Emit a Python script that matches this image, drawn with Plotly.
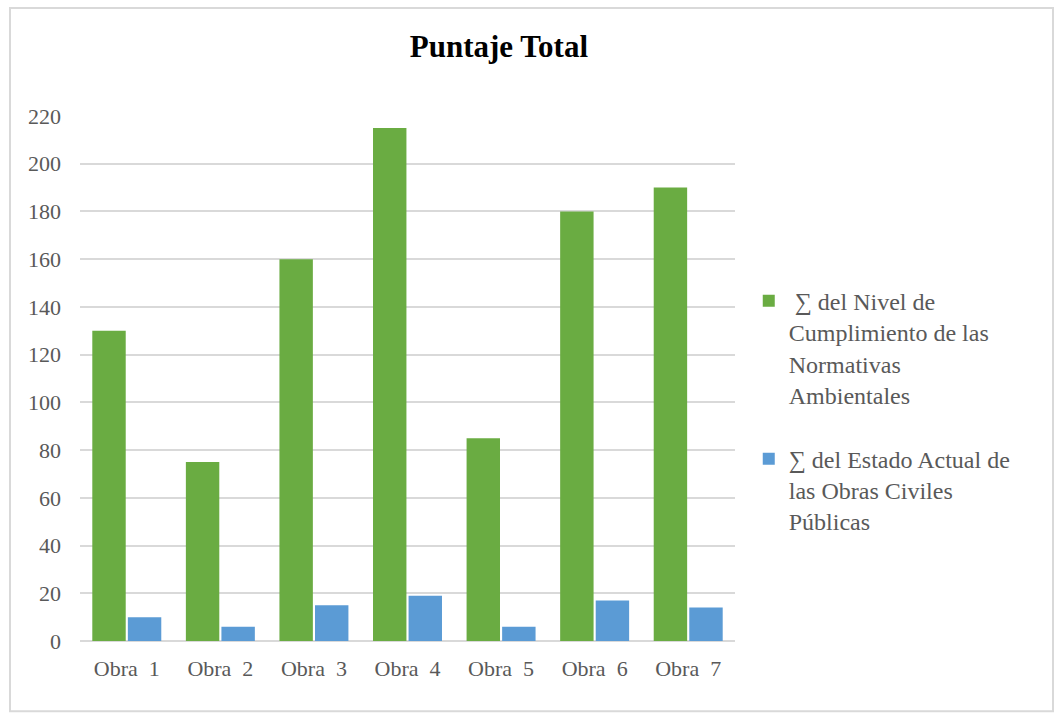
import plotly.graph_objects as go

categories = ["Obra  1", "Obra  2", "Obra  3", "Obra  4", "Obra  5", "Obra  6", "Obra  7"]
nivel_cumplimiento = [130, 75, 160, 215, 85, 180, 190]
estado_actual = [10, 6, 15, 19, 6, 17, 14]
series_names = [
    " ∑ del Nivel de<br>Cumplimiento de las<br>Normativas<br>Ambientales",
    "∑ del Estado Actual de<br>las Obras Civiles<br>Públicas",
]
y_ticks = list(range(0, 221, 20))

FONT = "Liberation Serif, Times New Roman, serif"

fig = go.Figure()
fig.add_trace(go.Bar(x=categories, y=nivel_cumplimiento, name=series_names[0],
                     legendgroup="g1",
                     marker=dict(color="#6AAC42", line=dict(width=0))))
fig.add_trace(go.Bar(x=categories, y=estado_actual, name=series_names[1],
                     legendgroup="g2",
                     marker=dict(color="#5B9BD5", line=dict(width=0))))

fig.update_layout(
    width=1057, height=713,
    margin=dict(l=80, r=322, t=116, b=72),
    paper_bgcolor="white", plot_bgcolor="white",
    barmode="group", bargap=0.24, bargroupgap=0.06,
    title=dict(text="<b>Puntaje Total</b>", x=0.472, xanchor="center",
               y=0.935, yanchor="middle",
               font=dict(family=FONT, size=31, color="black")),
    font=dict(family=FONT, color="#595959"),
    xaxis=dict(showgrid=False, showline=False, ticks="", ticklabelstandoff=12,
               tickfont=dict(family=FONT, size=22, color="#595959")),
    yaxis=dict(range=[0, 220], tickvals=y_ticks, showgrid=True,
               gridcolor="#D9D9D9", gridwidth=1.5, zeroline=True,
               zerolinecolor="#D9D9D9", zerolinewidth=1.5, showline=False,
               ticks="", ticklabelstandoff=18,
               tickfont=dict(family=FONT, size=22, color="#595959")),
    legend=dict(x=1.021, y=0.69, xanchor="left", yanchor="top",
                font=dict(family=FONT, size=24, color="#595959"),
                tracegroupgap=30, itemwidth=30, valign="top",
                bgcolor="rgba(0,0,0,0)"),
    showlegend=True,
)

fig.add_shape(type="rect", xref="paper", yref="paper",
              x0=-0.1069, x1=1.4855, y0=-0.134, y1=1.2057,
              line=dict(color="#D9D9D9", width=2), fillcolor="rgba(0,0,0,0)",
              layer="below")

fig.write_html("out.html")
